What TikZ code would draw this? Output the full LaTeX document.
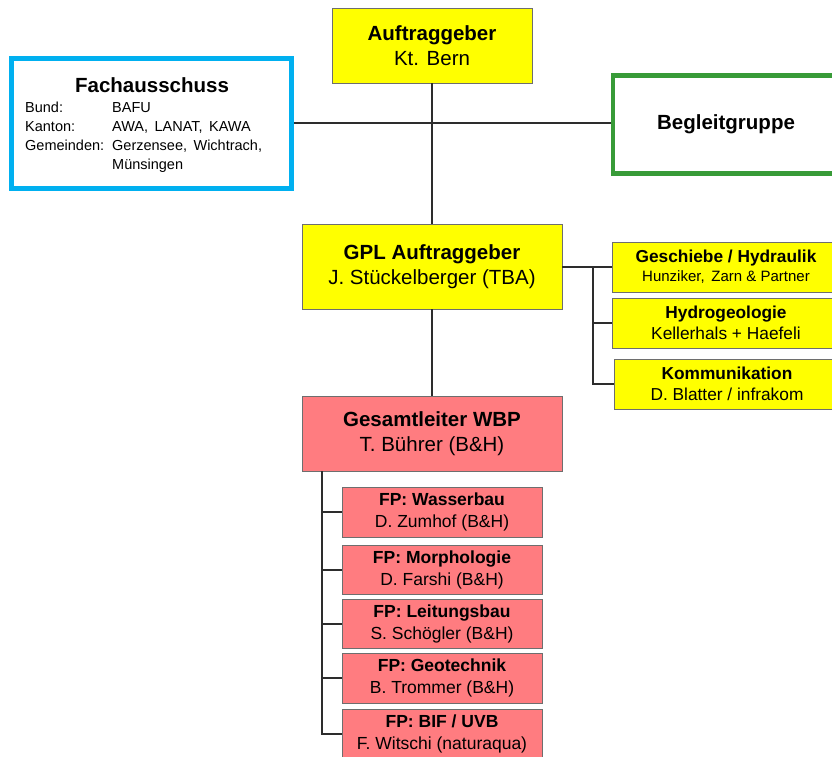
\documentclass[tikz,border=0pt]{standalone}
\usepackage{fontspec}
\setmainfont{Liberation Sans}
\definecolor{ofyellow}{RGB}{255,255,0}
\definecolor{ofred}{RGB}{255,124,128}
\definecolor{fachblue}{RGB}{0,176,240}
\definecolor{beggreen}{RGB}{56,155,56}
\definecolor{boxline}{RGB}{110,110,110}
\definecolor{connline}{RGB}{45,45,45}
\begin{document}
\begin{tikzpicture}[x=1pt,y=-1pt,
  box/.style={draw=boxline, line width=0.9pt, inner sep=0pt, align=center, anchor=center},
  ybox/.style={box, fill=ofyellow},
  rbox/.style={box, fill=ofred},
  big/.style={font=\fontsize{20.5}{25}\selectfont},
  mid/.style={font=\fontsize{17.3}{21}\selectfont},
  fp/.style={rbox, font=\fontsize{17.5}{22}\selectfont, minimum width=200pt},
  side/.style={ybox, mid, minimum height=50pt},
  small/.style={font=\fontsize{14.5}{18}\selectfont, inner sep=0pt, anchor=base west},
  conn/.style={draw=connline, line width=1.4pt},
]
\useasboundingbox (0,0) rectangle (832,756);
\clip (0,0) rectangle (832,756);

\coordinate (rb) at (593,267);
\coordinate (lb) at (322,471);

\node[ybox, big, minimum width=200pt, minimum height=75pt] (auf) at (432,45.5) {\textbf{Auftraggeber}\\Kt. Bern};
\node[ybox, big, minimum width=260pt, minimum height=85pt] (gpl) at (432,266.5) {\textbf{GPL Auftraggeber}\\J. Stückelberger (TBA)};
\node[rbox, big, minimum width=260pt, minimum height=75pt] (ges) at (432,433.5) {\textbf{Gesamtleiter WBP}\\T. Bührer (B\&H)};

\node[draw=fachblue, line width=5pt, minimum width=280pt, minimum height=130pt, inner sep=0pt, fill=white] (fach) at (151.5,123) {};
\node[font=\fontsize{20.5}{25}\selectfont\bfseries, inner sep=0pt] (facht) at (152,85) {Fachausschuss};
\node[small] (fl1) at (25,112.5) {Bund:};
\node[small] (fl2) at (25,131.5) {Kanton:};
\node[small] (fl3) at (25,150.5) {Gemeinden:};
\node[small] (fv1) at (112,112.5) {BAFU};
\node[small] (fv2) at (112,131.5) {AWA,\, LANAT,\, KAWA};
\node[small] (fv3) at (112,150.5) {Gerzensee,\, Wichtrach,};
\node[small] (fv4) at (112,169.5) {Münsingen};

\node[draw=beggreen, line width=4.5pt, minimum width=226pt, minimum height=98pt, inner sep=0pt, fill=white, font=\fontsize{20.5}{25}\selectfont\bfseries] (beg) at (726,124.5) {Begleitgruppe};

\node[side, minimum width=228pt] (gesch) at (726,267) {\textbf{Geschiebe / Hydraulik}\\[-2pt]{\fontsize{15}{18}\selectfont Hunziker,\, Zarn \& Partner}};
\node[side, minimum width=228pt] (hydro) at (726,323) {\textbf{Hydrogeologie}\\Kellerhals + Haefeli};
\node[side, minimum width=226pt] (komm) at (727,384) {\textbf{Kommunikation}\\D. Blatter / infrakom};

\node[fp, minimum height=50pt] (fp1) at (442,512) {\textbf{FP: Wasserbau}\\D. Zumhof (B\&H)};
\node[fp, minimum height=49pt] (fp2) at (442,570) {\textbf{FP: Morphologie}\\D. Farshi (B\&H)};
\node[fp, minimum height=49pt] (fp3) at (442,624) {\textbf{FP: Leitungsbau}\\S. Schögler (B\&H)};
\node[fp, minimum height=50pt] (fp4) at (442,678) {\textbf{FP: Geotechnik}\\B. Trommer (B\&H)};
\node[fp, minimum height=50pt] (fp5) at (442,734) {\textbf{FP: BIF / UVB}\\F. Witschi (naturaqua)};

\draw[conn] (auf.south) -- (gpl.north);
\draw[conn] (fach.east) -- (beg.west |- fach.east);
\draw[conn] (gpl.south) -- (ges.north);
\draw[conn] (gpl.east |- rb) -- (gesch.west);
\draw[conn] (rb) |- (komm.west);
\draw[conn] (rb |- hydro.west) -- (hydro.west);
\draw[conn] (lb) |- (fp5.west);
\draw[conn] (lb |- fp1.west) -- (fp1.west);
\draw[conn] (lb |- fp2.west) -- (fp2.west);
\draw[conn] (lb |- fp3.west) -- (fp3.west);
\draw[conn] (lb |- fp4.west) -- (fp4.west);
\end{tikzpicture}
\end{document}
